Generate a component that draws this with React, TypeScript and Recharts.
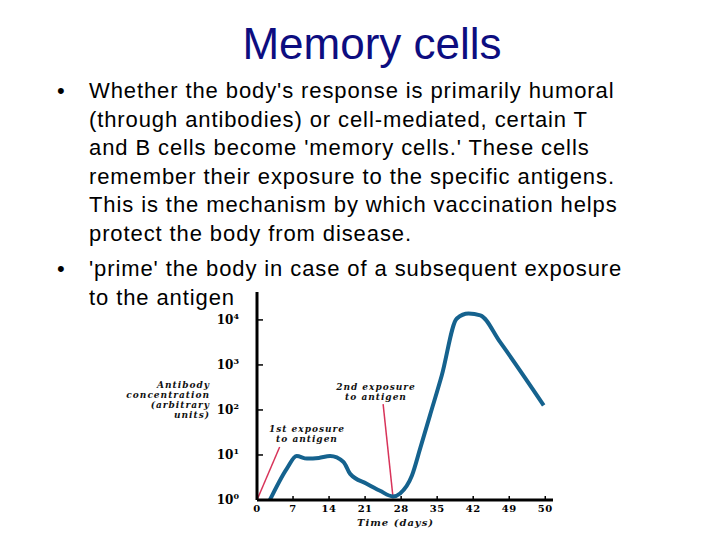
import { Line, LineChart, ReferenceLine, XAxis, YAxis } from "recharts";

// antibody curve (day, arbitrary units on a log scale)
const days = [2.5, 5.8, 7.7, 9.7, 12, 14.2, 16.8, 18.1, 21.3, 23.9, 26.4, 27.8, 30.1, 31.7, 33.6, 35.9, 38.8, 41.1, 43.4, 47.2, 55.7];
const antibody = [1, 5, 9.5, 8.3, 8.6, 9.5, 7, 3.8, 2.3, 1.6, 1.2, 1.4, 3.5, 14, 76, 590, 10700, 13800, 12600, 3240, 126];

const xTicks = [0, 7, 14, 21, 28, 35, 42, 49, 56];
const xTickLabels = ["0", "7", "14", "21", "28", "35", "42", "49", "50"];
const yTicks = [1, 10, 100, 1000, 10000];
const yExponents = ["0", "1", "2", "3", "4"];

const firstExposure = [{ x: 0, y: 1 }, { x: 4.4, y: 15 }];
const secondExposure = [{ x: 26.4, y: 1.2 }, { x: 24.5, y: 135 }];

const bullet1 = [
  "Whether the body's response is primarily humoral",
  "(through antibodies) or cell-mediated, certain T",
  "and B cells become 'memory cells.' These cells",
  "remember their exposure to the specific antigens.",
  "This is the mechanism by which vaccination helps",
  "protect the body from disease.",
];
const bullet2 = ["'prime' the body in case of a subsequent exposure", "to the antigen"];
const yLabel = ["Antibody", "concentration", "(arbitrary", "units)"];

const data = days.map((d, i) => ({ day: d, antibody: antibody[i] }));

const serif = "'DejaVu Serif', serif";
const sans = "'Liberation Sans', Arial, sans-serif";

const XTick = (props: any) => {
  const { x, y, index } = props;
  return (
    <text x={x} y={y} textAnchor="middle" fontFamily={serif} fontWeight="bold" fontSize={10} letterSpacing={0.5} fill="#000">
      {xTickLabels[index]}
    </text>
  );
};

const YTick = (props: any) => {
  const { x, y, index } = props;
  return (
    <text x={x} y={y + 4} textAnchor="end" fontFamily={serif} fontWeight="bold" fontSize={12} fill="#000">
      <tspan>10</tspan>
      <tspan dy={-5} fontSize={8}>{yExponents[index]}</tspan>
    </text>
  );
};

const note = {
  position: "absolute" as const,
  fontFamily: serif,
  fontStyle: "italic",
  fontWeight: "bold",
  fontSize: 9,
  letterSpacing: 1,
  lineHeight: "10px",
  color: "#111",
  whiteSpace: "nowrap" as const,
};

const body = {
  position: "absolute" as const,
  fontFamily: sans,
  fontSize: 22,
  letterSpacing: 0.9,
  lineHeight: "28.6px",
  whiteSpace: "nowrap" as const,
};

export default function App() {
  return (
    <div style={{ position: "absolute", left: 0, top: 0, width: 720, height: 540, background: "#fff", overflow: "hidden" }}>
      <div style={{ position: "absolute", left: 0, width: 744, top: 18, textAlign: "center", fontFamily: sans, fontSize: 44, color: "#0d0d80", lineHeight: "52px" }}>
        Memory cells
      </div>

      <div style={{ ...body, left: 57, top: 77 }}>•</div>
      <div style={{ ...body, left: 89, top: 77 }}>
        {bullet1.map((l) => (
          <div key={l}>{l}</div>
        ))}
      </div>
      <div style={{ ...body, left: 57, top: 255 }}>•</div>
      <div style={{ ...body, left: 89, top: 255 }}>
        {bullet2.map((l) => (
          <div key={l}>{l}</div>
        ))}
      </div>

      <div style={{ position: "absolute", left: 140, top: 280 }}>
        <LineChart width={420} height={250} data={data} margin={{ top: 12, right: 7, bottom: 0, left: 57 }}>
          <XAxis
            dataKey="day"
            type="number"
            domain={[0, 57.5]}
            ticks={xTicks}
            allowDataOverflow
            axisLine={{ stroke: "#000", strokeWidth: 3 }}
            tickLine={{ stroke: "#000", strokeWidth: 1.5 }}
            tickSize={-4}
            tickMargin={16}
            tick={<XTick />}
            height={30}
          />
          <YAxis
            type="number"
            scale="log"
            domain={[1, 41700]}
            ticks={yTicks}
            allowDataOverflow
            axisLine={{ stroke: "#000", strokeWidth: 3 }}
            tickLine={{ stroke: "#000", strokeWidth: 1.5 }}
            tickSize={-6}
            tickMargin={24}
            tick={<YTick />}
            width={60}
          />
          <ReferenceLine segment={firstExposure} stroke="#d8345a" strokeWidth={1.5} ifOverflow="visible" />
          <ReferenceLine segment={secondExposure} stroke="#d8345a" strokeWidth={1.5} ifOverflow="visible" />
          <Line
            type="monotone"
            dataKey="antibody"
            stroke="#15628e"
            strokeWidth={4}
            dot={false}
            isAnimationActive={false}
          />
        </LineChart>
      </div>

      <div style={{ ...note, left: 90, width: 120, top: 380, textAlign: "right" }}>
        {yLabel.map((l) => (
          <div key={l}>{l}</div>
        ))}
      </div>
      <div style={{ ...note, left: 264, top: 424, textAlign: "center", width: 86 }}>
        <div>1st exposure</div>
        <div>to antigen</div>
      </div>
      <div style={{ ...note, left: 332, top: 382, textAlign: "center", width: 88 }}>
        <div>2nd exposure</div>
        <div>to antigen</div>
      </div>
      <div style={{ ...note, left: 357, top: 518, fontSize: 10 }}>Time (days)</div>
    </div>
  );
}
